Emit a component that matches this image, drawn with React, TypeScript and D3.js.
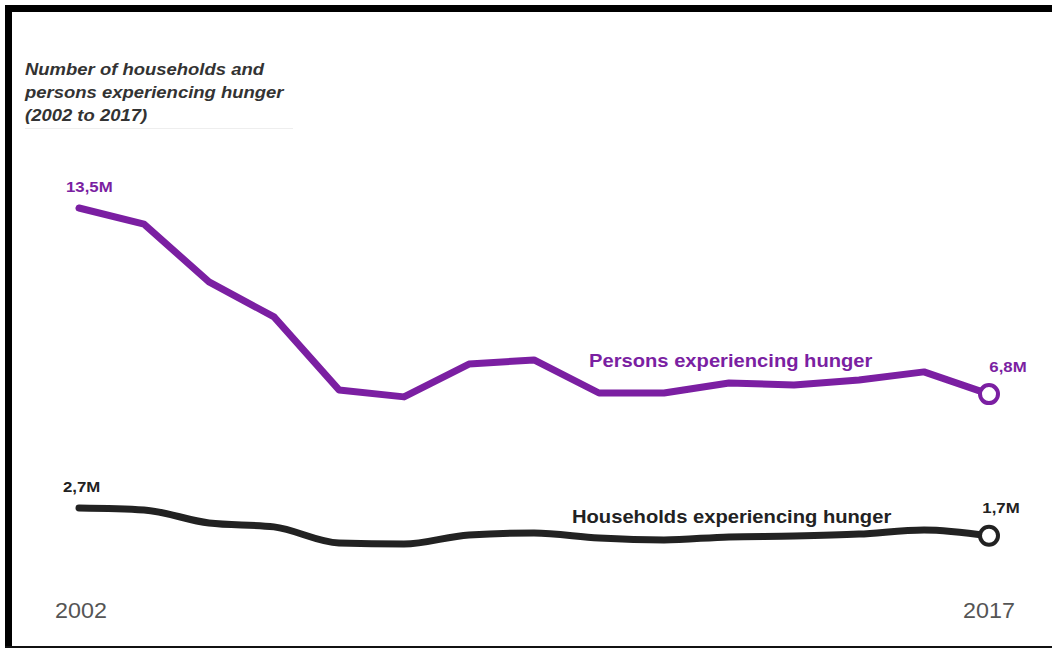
import React from "react";
import * as d3 from "d3";

const years = ["2002","2003","2004","2005","2006","2007","2008","2009","2010","2011","2012","2013","2014","2016","2017"];
const persons = [13.5, 12.92, 10.84, 9.58, 6.95, 6.7, 7.88, 8.03, 6.84, 6.84, 7.2, 7.13, 7.31, 7.6, 6.8];
const households = [2.7, 2.63, 2.16, 2.02, 1.44, 1.4, 1.73, 1.8, 1.62, 1.55, 1.66, 1.69, 1.76, 1.91, 1.7];
const titleLines = ["Number of households and", "persons experiencing hunger", "(2002 to 2017)"];
const personsLabel = "Persons experiencing hunger";
const householdsLabel = "Households experiencing hunger";

const W = 1052;
const H = 650;
const PURPLE = "#7b1fa2";
const DARK = "#222222";
const FONT = "'Liberation Sans', Arial, Helvetica, sans-serif";
const SX = 1.12;

const fmt = (v: number) => String(v.toFixed(1)).replace(".", ",") + "M";

function T(props: {
  x: number;
  y: number;
  size: number;
  fill: string;
  bold?: boolean;
  italic?: boolean;
  anchor?: string;
  sx?: number;
  children: React.ReactNode;
}) {
  const { x, y, size, fill, bold, italic, anchor, sx, children } = props;
  return (
    <text
      transform={`translate(${x},${y}) scale(${sx ?? SX},1)`}
      fontSize={size}
      fontWeight={bold ? "bold" : "normal"}
      fontStyle={italic ? "italic" : "normal"}
      fill={fill}
      textAnchor={anchor || "start"}
    >
      {children}
    </text>
  );
}

export default function App() {
  const x = d3.scalePoint<string>().domain(years).range([79, 989]);
  const y = d3.scaleLinear().domain([0, 13.5]).range([583, 208]);

  const linePersons = d3
    .line<number>()
    .x((_, i) => x(years[i]) as number)
    .y((d) => y(d))
    .curve(d3.curveLinear);
  const lineHouse = d3
    .line<number>()
    .x((_, i) => x(years[i]) as number)
    .y((d) => y(d))
    .curve(d3.curveMonotoneX);

  const n = years.length - 1;
  const x0 = x(years[0]) as number;
  const xN = x(years[n]) as number;

  return (
    <svg
      width={W}
      height={H}
      style={{ position: "absolute", left: 0, top: 0, background: "#fff" }}
      fontFamily={FONT}
    >
      <rect x={0} y={0} width={W} height={H} fill="#fff" />
      {/* frame */}
      <rect x={5} y={5} width={W - 5} height={7} fill="#000" />
      <rect x={5} y={5} width={7} height={643} fill="#000" />
      <rect x={5} y={646} width={W - 5} height={2} fill="#111" />

      {/* title */}
      {titleLines.map((t, i) => (
        <T key={i} x={25} y={75 + i * 23} size={16.5} bold italic fill="#333">
          {t}
        </T>
      ))}
      <line x1={25} x2={293} y1={128.5} y2={128.5} stroke="#eeeeee" strokeWidth={1} />

      {/* lines */}
      <path
        d={linePersons(persons) || ""}
        fill="none"
        stroke={PURPLE}
        strokeWidth={7}
        strokeLinejoin="round"
        strokeLinecap="round"
      />
      <path
        d={lineHouse(households) || ""}
        fill="none"
        stroke={DARK}
        strokeWidth={7}
        strokeLinejoin="round"
        strokeLinecap="round"
      />
      <circle cx={xN} cy={y(persons[n])} r={9} fill="#fff" stroke={PURPLE} strokeWidth={4} />
      <circle cx={xN} cy={y(households[n])} r={9} fill="#fff" stroke={DARK} strokeWidth={4} />

      {/* value labels */}
      <T x={x0 - 13} y={y(persons[0]) - 16} size={15} bold fill={PURPLE}>
        {fmt(persons[0])}
      </T>
      <T x={xN + 19} y={y(persons[n]) - 22} size={15} bold fill={PURPLE} anchor="middle">
        {fmt(persons[n])}
      </T>
      <T x={x0 - 16} y={y(households[0]) - 16} size={15} bold fill={DARK}>
        {fmt(households[0])}
      </T>
      <T x={xN + 12} y={y(households[n]) - 23} size={15} bold fill={DARK} anchor="middle">
        {fmt(households[n])}
      </T>

      {/* series labels */}
      <T x={589} y={367} size={18} bold fill={PURPLE}>
        {personsLabel}
      </T>
      <T x={572} y={523} size={18} bold fill={DARK}>
        {householdsLabel}
      </T>

      {/* axis labels */}
      <T x={x0 + 2} y={618} size={22} fill="#555" anchor="middle" sx={1.06}>
        {years[0]}
      </T>
      <T x={xN} y={618} size={22} fill="#555" anchor="middle" sx={1.06}>
        {years[n]}
      </T>
    </svg>
  );
}
